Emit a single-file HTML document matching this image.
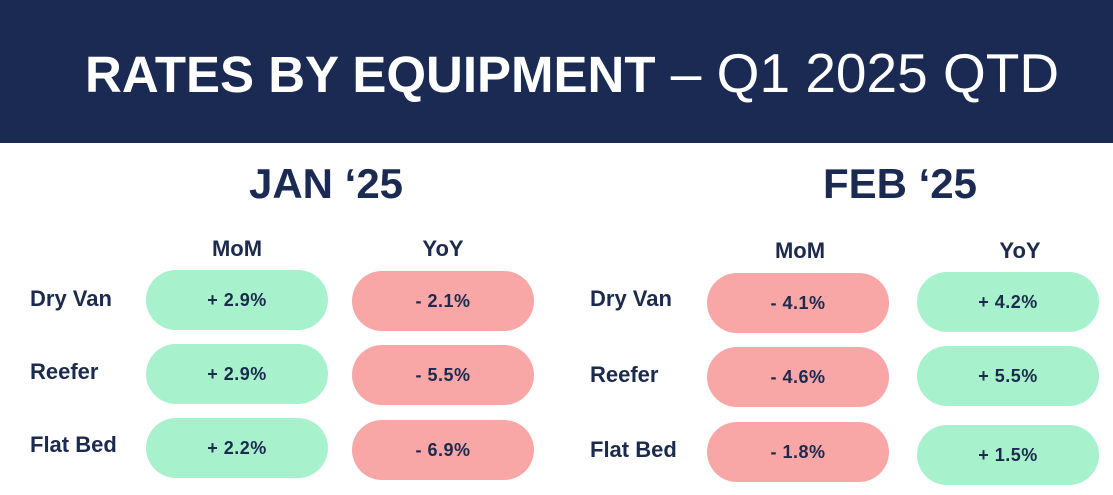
<!DOCTYPE html>
<html><head><meta charset="utf-8"><style>
body{margin:0;width:1113px;height:495px;background:#fff;position:relative;overflow:hidden;font-family:"Liberation Sans",sans-serif;color:#1c2a4e}
.hdr{position:absolute;left:0;top:0;width:1113px;height:143px;background:#1a2a52}
.title{position:absolute;left:85px;top:38px;font-size:51px;color:#fff;white-space:nowrap;line-height:70px}
.title span{font-size:55px}
.mon{position:absolute;top:160px;font-size:42px;font-weight:bold;color:#1a2a52;transform:translateX(-50%);white-space:nowrap}
.h{position:absolute;font-size:22px;font-weight:bold;transform:translate(-50%,-50%)}
.l{position:absolute;font-size:22px;font-weight:bold;transform:translateY(-50%)}
.p{position:absolute;width:182px;height:60px;border-radius:30px;display:flex;align-items:center;justify-content:center;font-size:18px;font-weight:bold;letter-spacing:0.5px}
.g{background:#a8f1cd}.r{background:#f8a6a6}
</style></head><body>
<div class="hdr"></div>
<div class="title"><b>RATES BY EQUIPMENT</b><span> – Q1 2025 QTD</span></div>
<div class="mon" style="left:326px">JAN ‘25</div>
<div class="mon" style="left:900px">FEB ‘25</div>
<div class="h" style="left:237px;top:249px">MoM</div>
<div class="h" style="left:443px;top:249px">YoY</div>
<div class="h" style="left:800px;top:251px">MoM</div>
<div class="h" style="left:1020px;top:251px">YoY</div>
<div class="l" style="left:30px;top:299px">Dry Van</div>
<div class="l" style="left:30px;top:372px">Reefer</div>
<div class="l" style="left:30px;top:445px">Flat Bed</div>
<div class="l" style="left:590px;top:299px">Dry Van</div>
<div class="l" style="left:590px;top:375px">Reefer</div>
<div class="l" style="left:590px;top:450px">Flat Bed</div>
<div class="p g" style="left:146px;top:270px">+ 2.9%</div>
<div class="p r" style="left:352px;top:271px">- 2.1%</div>
<div class="p g" style="left:146px;top:344px">+ 2.9%</div>
<div class="p r" style="left:352px;top:345px">- 5.5%</div>
<div class="p g" style="left:146px;top:418px">+ 2.2%</div>
<div class="p r" style="left:352px;top:420px">- 6.9%</div>
<div class="p r" style="left:707px;top:273px">- 4.1%</div>
<div class="p g" style="left:917px;top:272px">+ 4.2%</div>
<div class="p r" style="left:707px;top:347px">- 4.6%</div>
<div class="p g" style="left:917px;top:346px">+ 5.5%</div>
<div class="p r" style="left:707px;top:422px">- 1.8%</div>
<div class="p g" style="left:917px;top:425px">+ 1.5%</div>
</body></html>
